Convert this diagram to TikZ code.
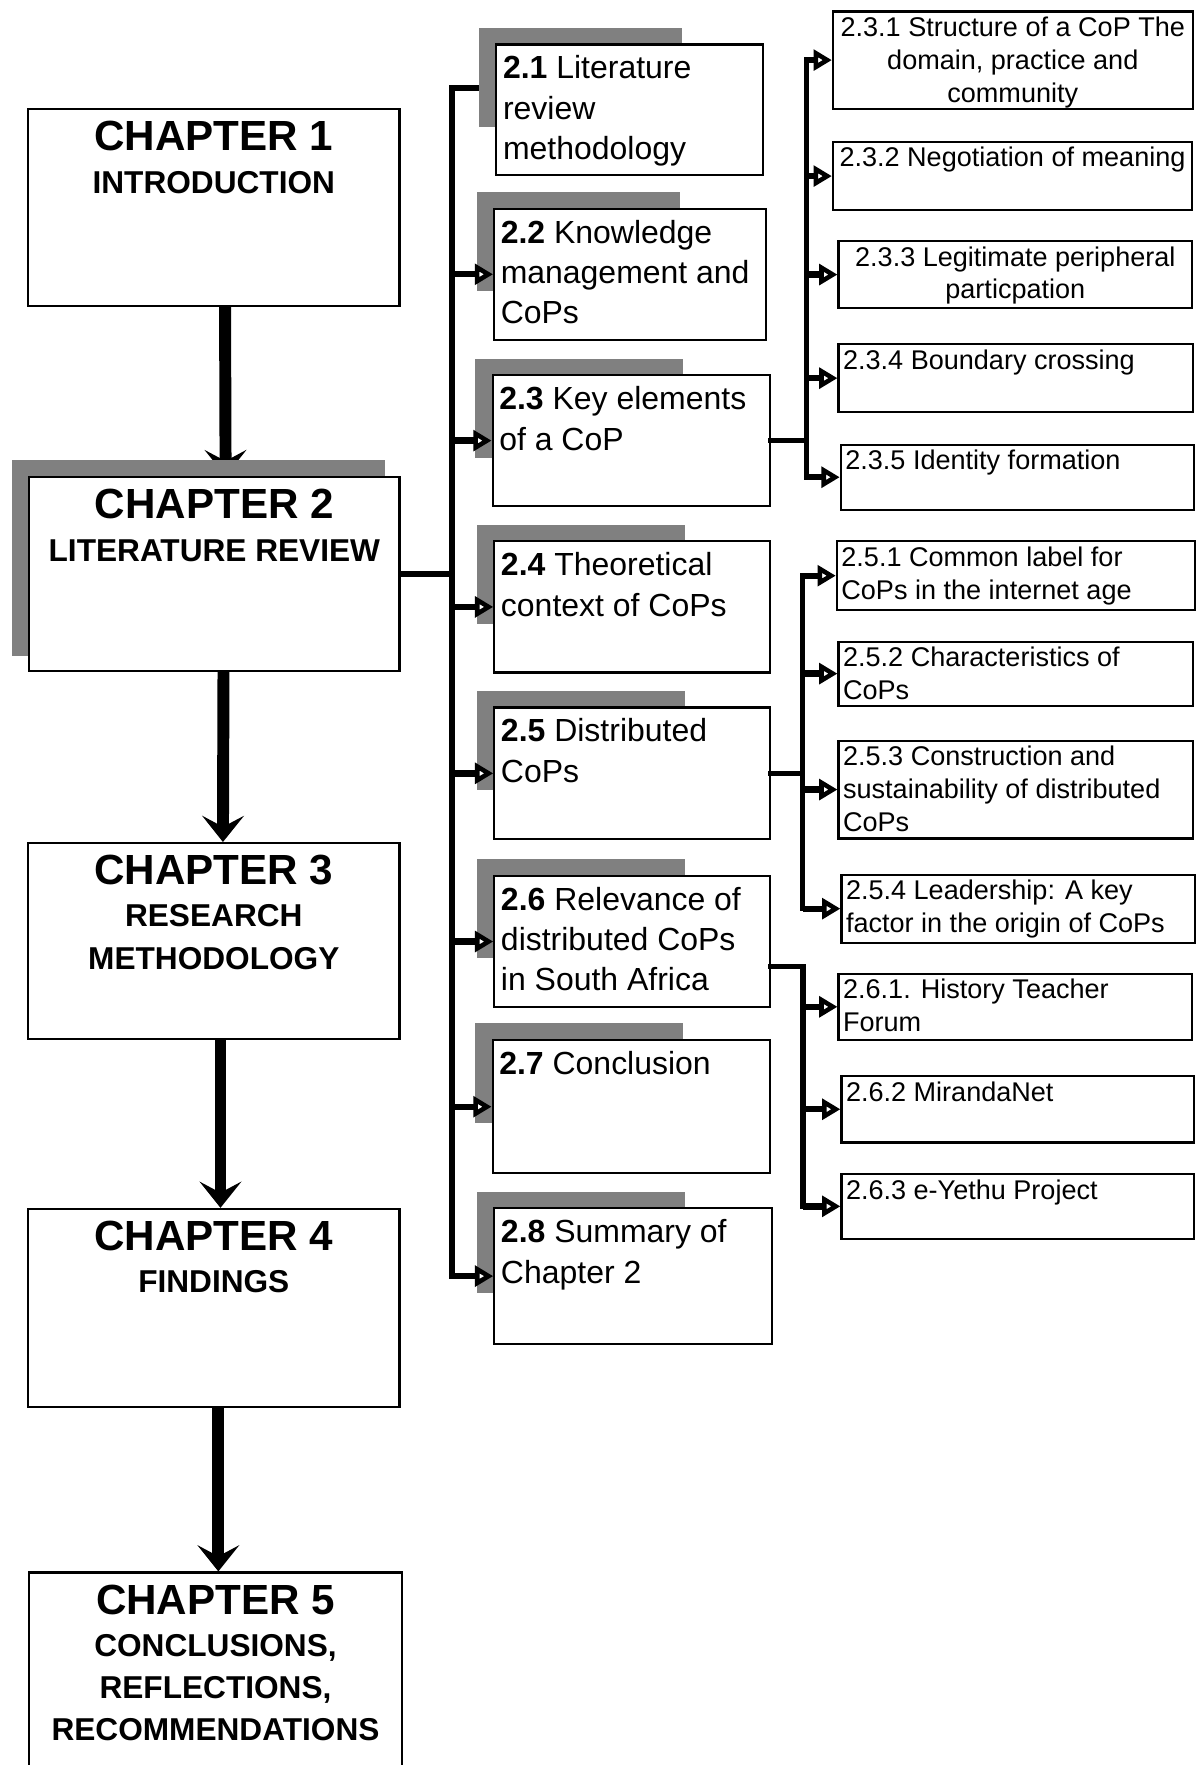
\documentclass[tikz,border=0pt]{standalone}
\usepackage{fontspec}
\setmainfont{Liberation Sans}
\usetikzlibrary{arrows.meta}

\newdimen\px
\px=0.3204pt
% box text: width, height (in px), text
\newcommand{\boxtext}[3]{\parbox[t][#2\px][t]{#1\px}{#3}}

\pgfdeclarelayer{under}
\pgfdeclarelayer{back}
\pgfsetlayers{under,back,main}

\begin{document}
\begin{tikzpicture}[x=0.3204pt, y=-0.3204pt,
	chbox/.style={draw, fill=white, line width=0.6pt, anchor=north west, inner xsep=0pt, inner ysep=3.5pt, font=\fontsize{9}{12}\selectfont\bfseries},
	secbox/.style={draw, fill=white, line width=0.6pt, anchor=north west, inner xsep=1.9pt, inner ysep=3.2pt, font=\fontsize{9.1}{11.5}\selectfont},
	subbox/.style={draw, fill=white, line width=0.6pt, anchor=north west, inner xsep=1.3pt, inner ysep=1.6pt, font=\fontsize{7.7}{9.3}\selectfont},
	shade/.style={fill=black!50},
	chaparrow/.style={line width=3.4pt, -{Stealth[length=7.5pt, width=12pt, inset=3.2pt, line width=0pt]}},
	trunkline/.style={line width=1.6pt, line cap=rect},
	brarrow/.style={line width=1.8pt, -{Triangle[length=5.2pt, width=5.8pt, fill=white, line width=1.3pt]}}]
	\useasboundingbox (0,0) rectangle (1063,1568);

	% chapters
	\node[chbox] (ch1) at (24,96) {\boxtext{330}{153}{\centering{\fontsize{12}{12}\selectfont CHAPTER 1}\\INTRODUCTION}};
	\node[chbox] (ch2) at (25,423) {\boxtext{329}{150}{\centering{\fontsize{12}{12}\selectfont CHAPTER 2}\\LITERATURE REVIEW}};
	\node[chbox] (ch3) at (24,748) {\boxtext{330}{152}{\centering{\fontsize{12}{12}\selectfont CHAPTER 3}\\RESEARCH\\METHODOLOGY}};
	\node[chbox] (ch4) at (24,1073) {\boxtext{330}{154}{\centering{\fontsize{12}{12}\selectfont CHAPTER 4}\\FINDINGS}};
	\node[chbox] (ch5) at (25,1396) {\boxtext{331}{168}{\centering{\fontsize{12}{12}\selectfont CHAPTER 5}\\CONCLUSIONS,\\REFLECTIONS,\\RECOMMENDATIONS}};

	% sections of chapter 2
	\node[secbox] (sec21) at (440,38.6) {\boxtext{225}{96}{\raggedright\textbf{2.1} Literature\\review\\methodology}};
	\node[secbox] (sec22) at (438,184.5) {\boxtext{230}{96.5}{\raggedright\textbf{2.2} Knowledge\\management and\\CoPs}};
	\node[secbox] (sec23) at (436.7,332.5) {\boxtext{234.5}{96}{\raggedright\textbf{2.3} Key elements\\of a CoP}};
	\node[secbox] (sec24) at (438.2,480) {\boxtext{233}{96.5}{\raggedright\textbf{2.4} Theoretical\\context of CoPs}};
	\node[secbox] (sec25) at (438.2,627.6) {\boxtext{233}{97}{\raggedright\textbf{2.5} Distributed\\CoPs}};
	\node[secbox] (sec26) at (438.2,777) {\boxtext{233}{97}{\raggedright\textbf{2.6} Relevance of\\distributed CoPs\\in South Africa}};
	\node[secbox] (sec27) at (436.7,923) {\boxtext{234.5}{98.5}{\raggedright\textbf{2.7} Conclusion}};
	\node[secbox] (sec28) at (438.2,1072.5) {\boxtext{235}{100.5}{\raggedright\textbf{2.8} Summary of\\Chapter 2}};

	% subsections
	\node[subbox] (s231) at (739,9.3) {\boxtext{311.5}{76.3}{\centering 2.3.1 Structure of a CoP The\\domain, practice and\\community}};
	\node[subbox] (s232) at (739,125) {\boxtext{311}{51}{\centering 2.3.2 Negotiation of meaning}};
	\node[subbox] (s233) at (744,213) {\boxtext{306}{50}{\centering 2.3.3 Legitimate peripheral\\particpation}};
	\node[subbox] (s234) at (744,305) {\boxtext{307}{50}{\raggedright 2.3.4 Boundary crossing}};
	\node[subbox] (s235) at (746,394) {\boxtext{306}{48}{\raggedright 2.3.5 Identity formation}};

	\node[subbox] (s251) at (742.5,480) {\boxtext{310}{51}{\raggedright 2.5.1 Common label for\\CoPs in the internet age}};
	\node[subbox] (s252) at (744,569) {\boxtext{307}{47}{\raggedright 2.5.2 Characteristics of\\CoPs}};
	\node[subbox] (s253) at (744,657) {\boxtext{307}{77}{\raggedright 2.5.3 Construction and\\sustainability of distributed\\CoPs}};
	\node[subbox] (s254) at (746.6,776) {\boxtext{306}{50.6}{\raggedright 2.5.4 Leadership: A key\\factor in the origin of CoPs}};

	\node[subbox] (s261) at (744,864) {\boxtext{306}{49}{\raggedright 2.6.1. History Teacher\\Forum}};
	\node[subbox] (s262) at (746.6,955) {\boxtext{305.4}{49}{\raggedright 2.6.2 MirandaNet}};
	\node[subbox] (s263) at (746.6,1042) {\boxtext{305.4}{47.5}{\raggedright 2.6.3 e-Yethu Project}};

	% shadows
	\begin{pgfonlayer}{back}
		\fill[shade] ([shift={(-14,-14)}]ch2.north west) rectangle ([shift={(-14,-14)}]ch2.south east);
		\fill[shade] ([shift={(-14.5,-14)}]sec21.north west) rectangle +(180,88);
		\fill[shade] ([shift={(-14.5,-14)}]sec22.north west) rectangle +(181,88);
		\fill[shade] ([shift={(-14.5,-14)}]sec23.north west) rectangle +(185,88);
		\fill[shade] ([shift={(-14.5,-14)}]sec24.north west) rectangle +(185,88);
		\fill[shade] ([shift={(-14.5,-14)}]sec25.north west) rectangle +(185,88);
		\fill[shade] ([shift={(-14.5,-14)}]sec26.north west) rectangle +(185,88);
		\fill[shade] ([shift={(-14.5,-14)}]sec27.north west) rectangle +(185,89);
		\fill[shade] ([shift={(-14.5,-14)}]sec28.north west) rectangle +(185,90);
	\end{pgfonlayer}

	% chapter flow
	\coordinate (t1) at (401.7,78);
	\begin{pgfonlayer}{under}
		\draw[chaparrow] ([xshift=3.2pt]ch1.south) -- ([xshift=3.2pt]ch2.north);
		\draw[trunkline] (sec21.west |- t1) -- (t1) -- (t1 |- sec28.west);
	\end{pgfonlayer}
	\draw[chaparrow] ([xshift=2.6pt]ch2.south) -- ([xshift=2.6pt]ch3.north);
	\draw[chaparrow] ([xshift=1.9pt]ch3.south) -- ([xshift=1.9pt]ch4.north);
	\draw[chaparrow] ([xshift=1.3pt]ch4.south) -- ([xshift=1.3pt]ch4.south |- ch5.north);

	% chapter 2 to its sections
	\draw[trunkline] (ch2.east) -- (ch2.east -| t1);
	\draw[brarrow] (sec22.west -| t1) -- (sec22.west);
	\draw[brarrow] (sec23.west -| t1) -- (sec23.west);
	\draw[brarrow] (sec24.west -| t1) -- (sec24.west);
	\draw[brarrow] (sec25.west -| t1) -- (sec25.west);
	\draw[brarrow] (sec26.west -| t1) -- (sec26.west);
	\draw[brarrow] (sec27.west -| t1) -- (sec27.west);
	\draw[brarrow] (sec28.west -| t1) -- (sec28.west);

	% 2.3 subsections
	\coordinate (t3) at (716.5,390);
	\draw[trunkline] (sec23.east) -- (sec23.east -| t3);
	\draw[trunkline] (s231.west -| t3) -- (s235.west -| t3);
	\draw[brarrow] (s231.west -| t3) -- (s231.west);
	\draw[brarrow] (s232.west -| t3) -- (s232.west);
	\draw[brarrow] (s233.west -| t3) -- (s233.west);
	\draw[brarrow] (s234.west -| t3) -- (s234.west);
	\draw[brarrow] (s235.west -| t3) -- (s235.west);

	% 2.5 subsections
	\coordinate (t5) at (713,686);
	\draw[trunkline] (sec25.east) -- (sec25.east -| t5);
	\draw[trunkline] (s251.west -| t5) -- (s254.west -| t5);
	\draw[brarrow] (s251.west -| t5) -- (s251.west);
	\draw[brarrow] (s252.west -| t5) -- (s252.west);
	\draw[brarrow] (s253.west -| t5) -- (s253.west);
	\draw[brarrow] (s254.west -| t5) -- (s254.west);

	% 2.6 subsections
	\coordinate (t6) at (713.5,858.5);
	\draw[trunkline] (t6 -| sec26.east) -- (t6) -- (t6 |- s263.west);
	\draw[brarrow] (s261.west -| t6) -- (s261.west);
	\draw[brarrow] (s262.west -| t6) -- (s262.west);
	\draw[brarrow] (s263.west -| t6) -- (s263.west);
\end{tikzpicture}
\end{document}
